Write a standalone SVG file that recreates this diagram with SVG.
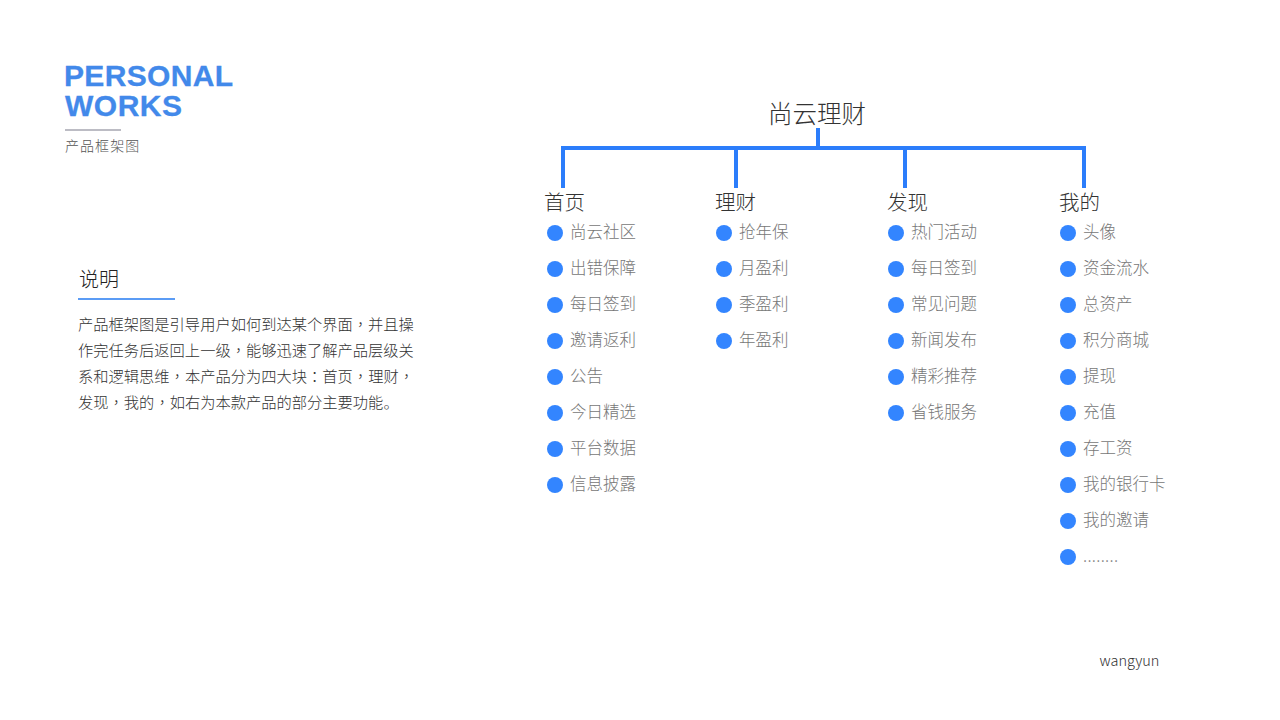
<svg xmlns="http://www.w3.org/2000/svg" width="1280" height="720" viewBox="0 0 1280 720">
<style>
text{font-family:"Noto Sans CJK SC","Liberation Sans",sans-serif}
.logo{font-family:"Liberation Sans",Arial,sans-serif;font-weight:700;font-size:30px;fill:#4289ea;stroke:#4289ea;stroke-width:.3}
.sub{font-size:14px;fill:#555;font-weight:300;letter-spacing:1.05px}
.root{font-size:24.5px;fill:#333;font-weight:300}
.head{font-size:20.5px;fill:#333;font-weight:300}
.item{font-size:16.5px;fill:#777;font-weight:300}
.body{font-size:15.27px;fill:#333;font-weight:300}
.p{font-family:"Noto Sans CJK TC","Liberation Sans",sans-serif}
.dot{fill:#3385ff}
.wire{stroke:#2b7dfb;stroke-width:4;fill:none}
</style>
<rect width="1280" height="720" fill="#fff"/>
<g id="header">
<text class="logo" x="64" y="85.500" textLength="169" lengthAdjust="spacing">PERSONAL</text>
<text class="logo" x="65" y="115.500" textLength="117" lengthAdjust="spacing">WORKS</text>
<rect x="65" y="129" width="56" height="2" fill="#bcbcc4"/>
<text class="sub" x="65" y="151">产品框架图</text>
</g>
<g id="note">
<text x="79" y="287" font-size="20" fill="#222" font-weight="300">说明</text>
<rect x="78" y="298" width="97" height="2" fill="#5b9cf5"/>
<text class="body" x="78" y="330">产品框架图是引导用户如何到达某个界面<tspan class="p">，</tspan>并且操</text>
<text class="body" x="78" y="356">作完任务后返回上一级<tspan class="p">，</tspan>能够迅速了解产品层级关</text>
<text class="body" x="78" y="382">系和逻辑思维<tspan class="p">，</tspan>本产品分为四大块<tspan class="p">：</tspan>首页<tspan class="p">，</tspan>理财<tspan class="p">，</tspan></text>
<text class="body" x="78" y="408">发现<tspan class="p">，</tspan>我的<tspan class="p">，</tspan>如右为本款产品的部分主要功能。</text>
</g>
<g id="connectors">
<path class="wire" d="M818 128V148M563 188V148H1084V188M736 148V188M905 148V188"/>
</g>
<g id="root"><text class="root" x="768" y="123">尚云理财</text></g>
<g id="col1">
<text class="head" x="544" y="210">首页</text>
<circle class="dot" cx="555" cy="233" r="8"/><text class="item" x="570" y="238">尚云社区</text>
<circle class="dot" cx="555" cy="269" r="8"/><text class="item" x="570" y="274">出错保障</text>
<circle class="dot" cx="555" cy="305" r="8"/><text class="item" x="570" y="310">每日签到</text>
<circle class="dot" cx="555" cy="341" r="8"/><text class="item" x="570" y="346">邀请返利</text>
<circle class="dot" cx="555" cy="377" r="8"/><text class="item" x="570" y="382">公告</text>
<circle class="dot" cx="555" cy="413" r="8"/><text class="item" x="570" y="418">今日精选</text>
<circle class="dot" cx="555" cy="449" r="8"/><text class="item" x="570" y="454">平台数据</text>
<circle class="dot" cx="555" cy="485" r="8"/><text class="item" x="570" y="490">信息披露</text>
</g>
<g id="col2">
<text class="head" x="715" y="210">理财</text>
<circle class="dot" cx="724" cy="233" r="8"/><text class="item" x="739" y="238">抢年保</text>
<circle class="dot" cx="724" cy="269" r="8"/><text class="item" x="739" y="274">月盈利</text>
<circle class="dot" cx="724" cy="305" r="8"/><text class="item" x="739" y="310">季盈利</text>
<circle class="dot" cx="724" cy="341" r="8"/><text class="item" x="739" y="346">年盈利</text>
</g>
<g id="col3">
<text class="head" x="887" y="210">发现</text>
<circle class="dot" cx="896" cy="233" r="8"/><text class="item" x="911" y="238">热门活动</text>
<circle class="dot" cx="896" cy="269" r="8"/><text class="item" x="911" y="274">每日签到</text>
<circle class="dot" cx="896" cy="305" r="8"/><text class="item" x="911" y="310">常见问题</text>
<circle class="dot" cx="896" cy="341" r="8"/><text class="item" x="911" y="346">新闻发布</text>
<circle class="dot" cx="896" cy="377" r="8"/><text class="item" x="911" y="382">精彩推荐</text>
<circle class="dot" cx="896" cy="413" r="8"/><text class="item" x="911" y="418">省钱服务</text>
</g>
<g id="col4">
<text class="head" x="1059" y="210">我的</text>
<circle class="dot" cx="1068" cy="233" r="8"/><text class="item" x="1083" y="238">头像</text>
<circle class="dot" cx="1068" cy="269" r="8"/><text class="item" x="1083" y="274">资金流水</text>
<circle class="dot" cx="1068" cy="305" r="8"/><text class="item" x="1083" y="310">总资产</text>
<circle class="dot" cx="1068" cy="341" r="8"/><text class="item" x="1083" y="346">积分商城</text>
<circle class="dot" cx="1068" cy="377" r="8"/><text class="item" x="1083" y="382">提现</text>
<circle class="dot" cx="1068" cy="413" r="8"/><text class="item" x="1083" y="418">充值</text>
<circle class="dot" cx="1068" cy="449" r="8"/><text class="item" x="1083" y="454">存工资</text>
<circle class="dot" cx="1068" cy="485" r="8"/><text class="item" x="1083" y="490">我的银行卡</text>
<circle class="dot" cx="1068" cy="521" r="8"/><text class="item" x="1083" y="526">我的邀请</text>
<circle class="dot" cx="1068" cy="557" r="8"/><text class="item" x="1083" y="562" letter-spacing=".3">........</text>
</g>
<g id="credit"><text x="1099.500" y="666" font-size="14.5" fill="#333" font-weight="300">wangyun</text></g>
</svg>
